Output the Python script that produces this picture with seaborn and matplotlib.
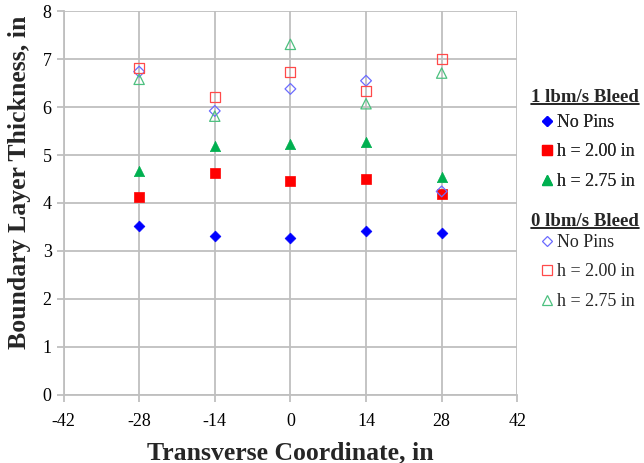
import numpy as np
import pandas as pd
import matplotlib
matplotlib.use("Agg")
import matplotlib.pyplot as plt
from matplotlib.lines import Line2D
import seaborn as sns

# Transverse stations (in)
positions = [-28, -14, 0, 14, 28]

# Boundary layer thickness (in), 1 lbm/s bleed
bleed1_no_pins = [3.52, 3.31, 3.26, 3.42, 3.37]
bleed1_h200 = [4.13, 4.63, 4.46, 4.50, 4.18]
bleed1_h275 = [4.66, 5.19, 5.22, 5.27, 4.54]

# Boundary layer thickness (in), 0 lbm/s bleed
bleed0_no_pins = [6.74, 5.92, 6.38, 6.55, 4.24]
bleed0_h200 = [6.81, 6.21, 6.73, 6.34, 7.01]
bleed0_h275 = [6.58, 5.81, 7.31, 6.07, 6.71]

x_ticks = [-42, -28, -14, 0, 14, 28, 42]
y_ticks = [0, 1, 2, 3, 4, 5, 6, 7, 8]

sns.set_theme(style="white")
plt.rcParams["font.family"] = ["Liberation Serif", "DejaVu Serif"]

fig = plt.figure(figsize=(6.44, 4.63), dpi=100)
ax = fig.add_axes([63.5 / 644, 1 - 394.5 / 463, (517.3 - 63.5) / 644, (394.5 - 11.3) / 463])

grid_c = "#bfbfbf"

# (values, marker, colour, filled, label)
series = [
    (bleed1_no_pins, "D", "#0000ff", True, "No Pins"),
    (bleed1_h200, "s", "#ff0000", True, "h = 2.00 in"),
    (bleed1_h275, "^", "#00b050", True, "h = 2.75 in"),
    (bleed0_no_pins, "D", "#6b6bff", False, "No Pins"),
    (bleed0_h200, "s", "#ff4a4a", False, "h = 2.00 in"),
    (bleed0_h275, "^", "#4cc07f", False, "h = 2.75 in"),
]

sizes = {"D": 30, "s": 52, "^": 55}

for vals, mk, col, filled, lab in series:
    df = pd.DataFrame({"x": positions, "y": vals})
    if filled:
        sns.scatterplot(data=df, x="x", y="y", ax=ax, marker=mk, color=col,
                        edgecolor=col, linewidth=0.5, s=sizes[mk], zorder=3)
    else:
        sns.scatterplot(data=df, x="x", y="y", ax=ax, marker=mk, color=col,
                        facecolor="none", edgecolor=col, linewidth=0.9,
                        s=sizes[mk], zorder=3)

ax.set_xlim(-42, 42)
ax.set_ylim(0, 8)
ax.set_xticks(x_ticks)
ax.set_yticks(y_ticks)
ax.set_xticklabels([str(v) for v in x_ticks])
ax.set_yticklabels([str(v) for v in y_ticks])
ax.grid(True, color=grid_c, linewidth=1.3)
ax.set_axisbelow(True)
for side in ["top", "right"]:
    ax.spines[side].set_visible(False)
for side in ["left", "bottom"]:
    ax.spines[side].set_color(grid_c)
    ax.spines[side].set_linewidth(1.3)
ax.tick_params(axis="both", which="both", direction="out", length=5,
               width=1.3, color=grid_c, labelsize=13, labelcolor="black",
               left=True, bottom=True)
ax.tick_params(axis="y", pad=3.5)
ax.tick_params(axis="x", pad=8.5)

ax.set_xlabel("Transverse Coordinate, in", fontsize=18.5, fontweight="bold", labelpad=8)
ax.set_ylabel("Boundary Layer Thickness, in", fontsize=18.5, fontweight="bold")
ax.yaxis.set_label_coords(-0.071, 0.553)

# Legend groups with underlined headings
def legend_group(title, entries, title_y, top_y):
    t = fig.text(531 / 644, 1 - title_y / 463, title, fontsize=13.5,
                 fontweight="bold", ha="left", va="center")
    handles = []
    labels = []
    for vals, mk, col, filled, lab in entries:
        handles.append(Line2D([], [], linestyle="none", marker=mk,
                              markersize={"D": 5.2, "s": 6.8, "^": 7}[mk],
                              markerfacecolor=col if filled else "none",
                              markeredgecolor=col, markeredgewidth=0.9))
        labels.append(lab)
    leg = fig.legend(handles, labels, loc="upper left",
                     bbox_to_anchor=(538 / 644, 1 - top_y / 463),
                     frameon=False, borderpad=0, borderaxespad=0,
                     handlelength=0.95, handletextpad=0.12, labelspacing=0.69,
                     fontsize=13)
    return t, leg

t1, leg1 = legend_group("1 lbm/s Bleed", series[:3], 98, 114)
t2, leg2 = legend_group("0 lbm/s Bleed", series[3:], 222, 234)
fig.add_artist(leg1)

fig.canvas.draw()
renderer = fig.canvas.get_renderer()
inv = fig.transFigure.inverted()
for t in (t1, t2):
    bb = t.get_window_extent(renderer)
    (x0, y0), (x1, y1) = inv.transform([(bb.x0, bb.y0 + 2.5), (bb.x1, bb.y0 + 2.5)])
    fig.add_artist(Line2D([x0, x1], [y0, y1], transform=fig.transFigure,
                          color="black", linewidth=1.2))

fig.savefig("out.png", dpi=100)
